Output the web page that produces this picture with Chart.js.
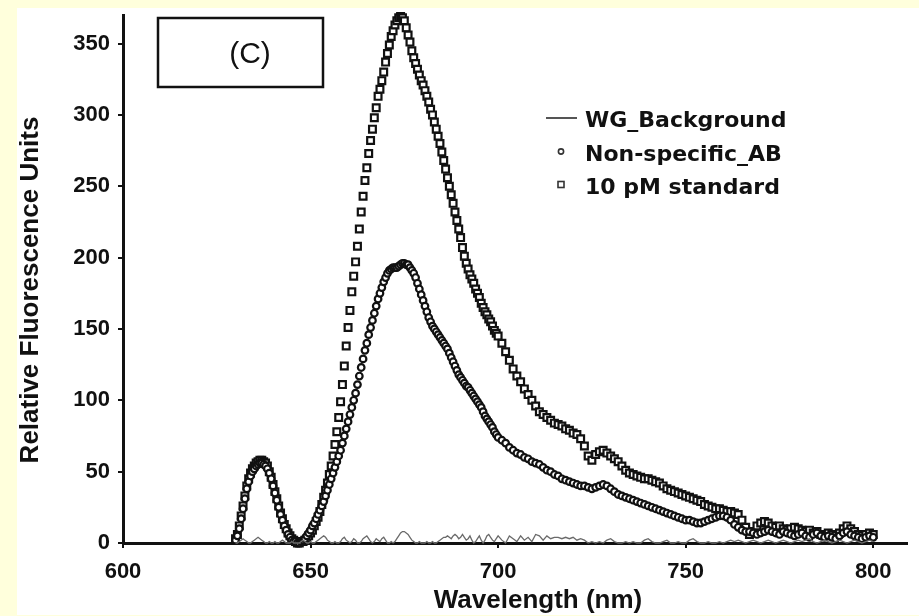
<!DOCTYPE html>
<html>
<head>
<meta charset="utf-8">
<script src="https://cdn.jsdelivr.net/npm/chart.js@4.4.1/dist/chart.umd.min.js"></script>
<style>
  html, body { margin: 0; padding: 0; background: #ffffdc; }
  #sheet { position: absolute; left: 17px; top: 8px; width: 902px; height: 607px; background: #fff; }
  canvas { display: block; }
</style>
</head>
<body>
<div id="sheet"><canvas id="spectrum" width="902" height="607"></canvas></div>
<script>
// Wavelength grid (nm): 0.5 nm steps up to 700, then 1 nm steps
const wavelength = [
  630,630.5,631,631.5,632,632.5,633,633.5,634,634.5,
  635,635.5,636,636.5,637,637.5,638,638.5,639,639.5,
  640,640.5,641,641.5,642,642.5,643,643.5,644,644.5,
  645,645.5,646,646.5,647,647.5,648,648.5,649,649.5,
  650,650.5,651,651.5,652,652.5,653,653.5,654,654.5,
  655,655.5,656,656.5,657,657.5,658,658.5,659,659.5,
  660,660.5,661,661.5,662,662.5,663,663.5,664,664.5,
  665,665.5,666,666.5,667,667.5,668,668.5,669,669.5,
  670,670.5,671,671.5,672,672.5,673,673.5,674,674.5,
  675,675.5,676,676.5,677,677.5,678,678.5,679,679.5,
  680,680.5,681,681.5,682,682.5,683,683.5,684,684.5,
  685,685.5,686,686.5,687,687.5,688,688.5,689,689.5,
  690,690.5,691,691.5,692,692.5,693,693.5,694,694.5,
  695,695.5,696,696.5,697,697.5,698,698.5,699,699.5,
  700,701,702,703,704,705,706,707,708,709,
  710,711,712,713,714,715,716,717,718,719,
  720,721,722,723,724,725,726,727,728,729,
  730,731,732,733,734,735,736,737,738,739,
  740,741,742,743,744,745,746,747,748,749,
  750,751,752,753,754,755,756,757,758,759,
  760,761,762,763,764,765,766,767,768,769,
  770,771,772,773,774,775,776,777,778,779,
  780,781,782,783,784,785,786,787,788,789,
  790,791,792,793,794,795,796,797,798,799,
  800
];

const wgBackground = [
  0,0,1,2,3,2,1,0,0,1,
  2,3,4,3,2,1,0,0,1,0,
  0,1,0,0,1,2,1,0,0,0,
  1,0,0,0,0,1,2,1,0,0,
  1,0,0,1,2,3,4,5,4,2,
  1,0,0,1,0,0,1,3,4,2,
  1,0,1,3,2,0,0,1,3,4,
  5,3,1,0,1,3,2,1,3,4,
  2,0,0,1,0,1,3,5,7,8,
  8,7,6,4,2,1,0,0,1,0,
  0,0,1,0,0,1,0,0,1,2,
  3,4,4,5,4,3,5,6,5,3,
  4,6,4,2,3,5,2,0,1,3,
  5,2,0,2,5,6,4,2,1,3,
  5,2,0,5,3,1,5,2,4,1,
  6,5,2,5,3,4,4,3,4,3,
  4,2,3,2,0,1,0,1,0,2,
  3,1,0,0,1,0,1,0,0,2,
  3,1,0,0,1,2,0,0,1,0,
  0,2,3,1,0,0,1,0,0,1,
  0,1,2,1,2,1,0,1,2,1,
  0,1,2,1,0,1,2,1,0,1,
  2,1,2,3,1,0,1,2,1,0,
  1,2,1,0,1,2,1,0,1,2,
  1
];

const nonSpecificAB = [
  2,5,10,17,24,31,38,43,47,50,
  52,54,55,56,56,55,54,52,49,45,
  40,35,30,25,20,16,12,9,6,4,
  2,1,1,0,0,1,2,3,5,7,
  9,12,14,17,20,23,26,29,33,37,
  41,45,49,53,57,61,65,70,75,80,
  85,90,95,100,105,111,117,123,129,135,
  140,146,151,156,161,166,171,175,179,183,
  186,189,191,192,193,193,193,194,195,196,
  196,195,195,193,191,189,186,182,178,174,
  170,166,162,158,155,152,150,148,146,144,
  142,140,138,136,133,130,127,124,121,118,
  116,114,112,110,109,107,105,103,101,99,
  97,95,92,89,87,85,83,81,78,76,
  74,72,70,67,65,63,62,60,59,57,
  56,55,53,51,50,48,47,45,44,43,
  42,41,40,40,39,38,39,40,41,40,
  38,36,34,33,32,31,30,29,28,27,
  26,25,24,23,22,21,20,19,18,17,
  16,16,15,14,14,15,16,17,18,19,
  19,18,16,13,11,9,8,8,7,6,
  7,8,9,8,7,6,8,7,6,5,
  6,7,5,4,6,7,5,4,5,4,
  3,5,7,8,6,5,4,3,4,5,
  4
];

const standard10pM = [
  3,6,12,19,26,33,40,45,49,52,
  54,56,57,58,58,57,56,54,50,46,
  41,36,31,26,21,17,13,10,7,5,
  3,2,1,0,0,1,1,2,3,5,
  7,9,12,15,18,22,27,32,37,42,
  48,54,61,69,78,88,99,111,124,138,
  151,163,176,187,197,208,220,232,243,254,
  263,273,282,290,298,305,313,318,324,330,
  337,343,349,355,359,363,366,368,369,368,
  366,361,356,351,345,340,336,332,328,324,
  321,317,313,309,304,300,295,290,285,280,
  274,268,262,256,250,244,238,232,226,220,
  214,207,201,196,192,188,185,182,178,175,
  172,168,165,162,160,157,155,152,149,147,
  145,140,134,128,122,117,113,108,104,100,
  96,92,90,88,86,84,83,82,80,79,
  77,76,73,68,61,58,62,64,65,63,
  61,59,57,54,51,49,48,47,46,45,
  45,44,43,42,40,38,37,36,35,34,
  33,32,31,30,29,27,26,25,24,24,
  23,22,22,21,20,16,11,6,8,12,
  14,15,14,12,11,12,10,9,10,11,
  10,9,8,9,7,8,6,5,7,6,
  5,7,10,12,10,8,6,5,6,7,
  6
];

const seriesLabels = ['WG_Background', 'Non-specific_AB', '10 pM standard'];
const xTicks = [600, 650, 700, 750, 800];
const yTicks = [0, 50, 100, 150, 200, 250, 300, 350];

const pts = arr => wavelength.map((x, i) => ({x: x, y: arr[i]}));
const INK = '#111';
const tickFont = {family: "'Liberation Sans', Arial, sans-serif", size: 22, weight: 'bold'};

// panel label box, legend and axis titles drawn on top
const overlay = {
  id: 'overlay',
  afterDraw(chart) {
    const c = chart.ctx;
    const a = chart.chartArea;
    c.save();

    // (C) box
    c.strokeStyle = INK;
    c.lineWidth = 2.5;
    c.strokeRect(a.left + 35, a.top + 3, 165, 69);
    c.fillStyle = INK;
    c.font = "30px 'Liberation Sans', Arial, sans-serif";
    c.textAlign = 'center';
    c.textBaseline = 'middle';
    c.fillText('(C)', a.left + 127, a.top + 40);

    // legend
    const lx = 529, rows = [119, 152.5, 185.5];
    c.font = "bold 22px 'DejaVu Sans', Verdana, sans-serif";
    c.textAlign = 'left';
    c.textBaseline = 'alphabetic';
    c.strokeStyle = '#555';
    c.lineWidth = 2;
    c.beginPath();
    c.moveTo(lx, rows[0] - 9);
    c.lineTo(lx + 31, rows[0] - 9);
    c.stroke();
    c.strokeStyle = '#333';
    c.lineWidth = 1.6;
    c.fillStyle = '#fff';
    c.beginPath();
    c.arc(lx + 15, rows[1] - 9, 2.6, 0, Math.PI * 2);
    c.fill(); c.stroke();
    c.fillRect(lx + 12, rows[2] - 12, 6, 6);
    c.strokeRect(lx + 12, rows[2] - 12, 6, 6);
    c.fillStyle = INK;
    seriesLabels.forEach((t, i) => c.fillText(t, lx + 39, rows[i]));

    // axis titles
    c.font = "bold 26px 'Liberation Sans', Arial, sans-serif";
    c.textAlign = 'center';
    c.fillText('Wavelength (nm)', 521, 600);
    c.translate(21, 282);
    c.rotate(-Math.PI / 2);
    c.fillText('Relative Fluorescence Units', 0, 0);
    c.restore();
  }
};

new Chart(document.getElementById('spectrum'), {
  type: 'scatter',
  data: {
    datasets: [
      {label: seriesLabels[0], data: pts(wgBackground), showLine: true, borderColor: '#6a6a6a',
       borderWidth: 1.3, pointRadius: 0, tension: 0, clip: 6},
      {label: seriesLabels[1], data: pts(nonSpecificAB), pointStyle: 'circle', pointRadius: 3.3,
       borderWidth: 2.2, borderColor: INK, backgroundColor: '#fff', clip: 6},
      {label: seriesLabels[2], data: pts(standard10pM), pointStyle: 'rect', pointRadius: 4.8,
       borderWidth: 2.2, borderColor: INK, backgroundColor: '#fff', clip: 6}
    ]
  },
  options: {
    responsive: false,
    animation: false,
    events: [],
    layout: {padding: {left: 0, top: 0, right: 12, bottom: 0}},
    plugins: {legend: {display: false}, tooltip: {enabled: false}},
    scales: {
      x: {
        type: 'linear', min: 600, max: 809, bounds: 'data',
        afterBuildTicks: s => { s.ticks = xTicks.map(v => ({value: v})); },
        afterFit: s => { s.height = 72; s.paddingLeft = 0; s.paddingRight = 0; },
        ticks: {font: tickFont, color: INK, padding: 11, maxRotation: 0, autoSkip: false},
        grid: {drawOnChartArea: false, tickLength: 5, color: INK, lineWidth: 2},
        border: {color: INK, width: 3}
      },
      y: {
        type: 'linear', min: 0, max: 370, bounds: 'data',
        afterBuildTicks: s => { s.ticks = yTicks.map(v => ({value: v})); },
        afterFit: s => { s.width = 106; s.paddingTop = 0; s.paddingBottom = 0; },
        ticks: {font: tickFont, color: INK, padding: 8, autoSkip: false},
        grid: {drawOnChartArea: false, tickLength: 5, color: INK, lineWidth: 2},
        border: {color: INK, width: 3}
      }
    }
  },
  plugins: [overlay]
});
</script>
</body>
</html>
